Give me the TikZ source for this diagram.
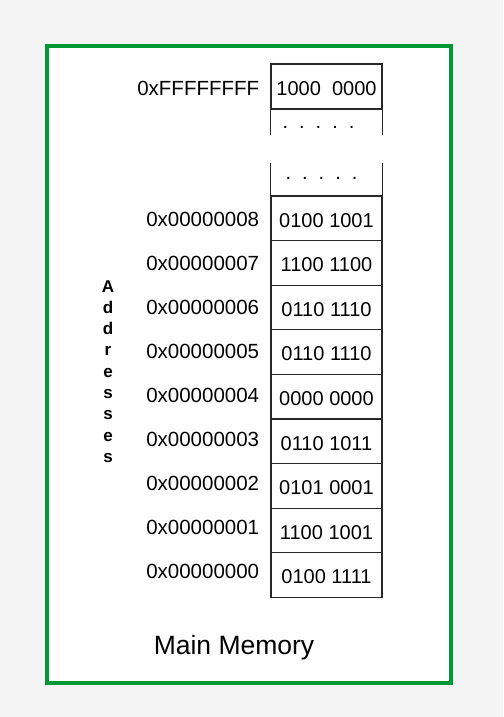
\documentclass[tikz,border=0pt]{standalone}
\usepackage{fontspec}
\setmainfont{Liberation Sans}
\usetikzlibrary{positioning}
\definecolor{cBg}{RGB}{244,244,244}
\definecolor{cFrame}{RGB}{0,153,51}
\definecolor{cLine}{RGB}{40,40,40}
\newcommand{\memdots}{.\hspace{11pt}.\hspace{11pt}.\hspace{11pt}.\hspace{11pt}.}
\tikzset{
  cellbox/.style={rectangle,draw=cLine,line width=1.3pt,minimum width=111pt,
                  minimum height=44.6pt,inner sep=0pt,
                  text height=17.5pt,text depth=0pt,
                  font=\fontsize{20}{24}\selectfont},
  addrtext/.style={inner sep=0pt,font=\fontsize{20.5}{24}\selectfont},
  dotstext/.style={inner sep=0pt,anchor=base,font=\fontsize{20}{24}\selectfont},
  sideline/.style={draw=cLine,line width=1.3pt},
  lettertext/.style={inner sep=0pt,anchor=base,
                     font=\fontsize{17}{19}\selectfont\bfseries},
  titletext/.style={inner sep=0pt,anchor=base,
                    font=\fontsize{26.5}{30}\selectfont}
}
\begin{document}
\begin{tikzpicture}[x=1pt,y=-1pt]
  \fill[cBg] (0,0) rectangle (503,717);
  \useasboundingbox (0,0) rectangle (503,717);
  \draw[cFrame,fill=white,line width=4pt] (47,46) rectangle (451,683);

  % top of memory
  \node[cellbox,minimum height=45pt] (ctop) at (326.5,86.5) {1000\ \ 0000};
  \node[addrtext,left=11pt of ctop,yshift=-1.5pt] (atop) {0xFFFFFFFF};
  \draw[sideline] (ctop.south west) -- ++(0,25);
  \draw[sideline] (ctop.south east) -- ++(0,25);
  \node[dotstext] (dtop) at (318.5,128.5) {\memdots};

  % low addresses
  \foreach \a/\val [count=\k from 0] in {8/0100 1001,7/1100 1100,6/0110 1110,
      5/0110 1110,4/0000 0000,3/0110 1011,2/0101 0001,1/1100 1001,0/0100 1111}{
    \node[cellbox] (c\a) at (326.5,{218.3+44.6*\k}) {\val};
    \node[addrtext,left=11pt of c\a,yshift={0.6*\k-0.7}] (a\a) {0x0000000\a};
  }
  \draw[sideline] (c8.north west) -- ++(0,-32);
  \draw[sideline] (c8.north east) -- ++(0,-32);
  \node[dotstext] (dlow) at (321.5,179.5) {\memdots};

  % side label
  \foreach \ch [count=\k from 0] in {A,d,d,r,e,s,s,e,s}
    \node[lettertext] (l\k) at (108,{292+21.3*\k}) {\ch};

  \node[titletext] (title) at (234,654) {Main Memory};
\end{tikzpicture}
\end{document}
